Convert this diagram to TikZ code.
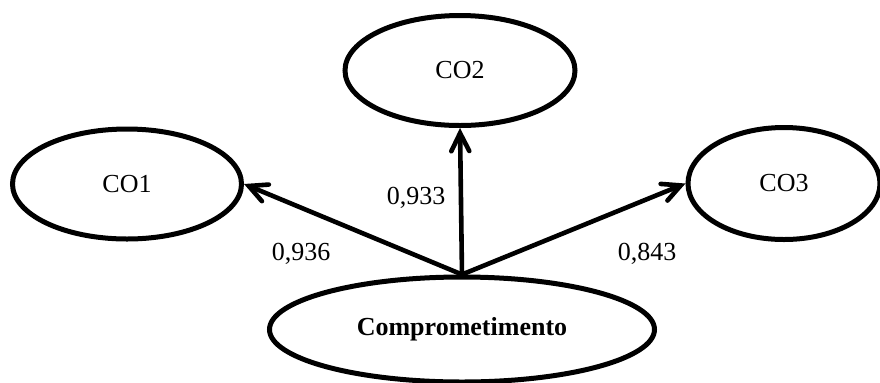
\documentclass[tikz,border=0pt]{standalone}
\usepackage{fontspec}
\setmainfont{Liberation Serif}
\usetikzlibrary{shapes.geometric,arrows.meta}
\begin{document}
\begin{tikzpicture}[x=0.5pt,y=-0.5pt,
  construct/.style={ellipse,draw,line width=2.5pt,inner sep=0pt,
    font=\fontsize{13pt}{15pt}\selectfont},
  loading/.style={line width=2.3pt,line cap=round,
    -{Straight Barb[length=9pt,width=9pt,line cap=round]}},
  weight/.style={font=\fontsize{13pt}{15pt}\selectfont,inner sep=0pt}]
  \useasboundingbox (0,0) rectangle (880,382);
  % indicator constructs
  \node[construct,minimum width=229pt*0.5,minimum height=110pt*0.5] (co1) at (127,184) {CO1};
  \node[construct,minimum width=230pt*0.5,minimum height=110pt*0.5] (co2) at (460,70.5) {CO2};
  \node[construct,minimum width=192pt*0.5,minimum height=112pt*0.5] (co3) at (784,183.5) {CO3};
  % latent construct
  \node[construct,minimum width=385pt*0.5,minimum height=105pt*0.5,
        font=\fontsize{13pt}{15pt}\selectfont\bfseries] (comp) at (462,329.5) {Comprometimento};
  % loadings
  \draw[loading] (comp.north) -- (co1.east);
  \draw[loading] (comp.north) -- (co2.south);
  \draw[loading] (comp.north) -- (co3.west);
  \node[weight] (w1) at (301,254) {0,936};
  \node[weight] (w2) at (416,198) {0,933};
  \node[weight] (w3) at (647,254) {0,843};
\end{tikzpicture}
\end{document}
